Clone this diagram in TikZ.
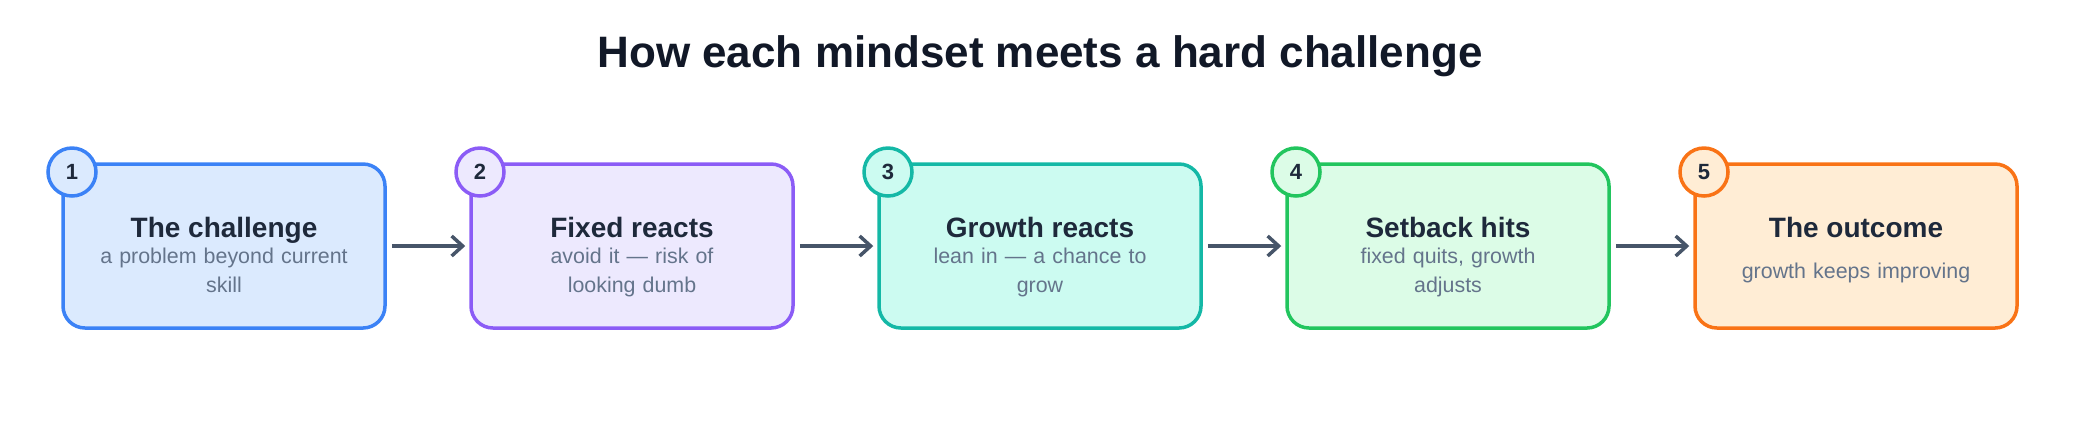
\documentclass[tikz,border=0pt]{standalone}
\usepackage{fontspec}
\setmainfont{Liberation Sans}
\usetikzlibrary{arrows.meta}

\definecolor{ink}{HTML}{111827}
\definecolor{boxtext}{HTML}{1E293B}
\definecolor{subtext}{HTML}{64748B}
\definecolor{arrowgray}{HTML}{475569}
\definecolor{blueline}{HTML}{3B82F6}   \definecolor{bluefill}{HTML}{DBEAFE}
\definecolor{violetline}{HTML}{8B5CF6} \definecolor{violetfill}{HTML}{EDE9FE}
\definecolor{tealline}{HTML}{14B8A6}   \definecolor{tealfill}{HTML}{CCFBF1}
\definecolor{greenline}{HTML}{22C55E}  \definecolor{greenfill}{HTML}{DCFCE7}
\definecolor{orangeline}{HTML}{F97316} \definecolor{orangefill}{HTML}{FFEDD5}

\tikzset{
  stagebox/.style={draw=#1line, fill=#1fill, line width=1.75pt, rounded corners=11pt,
    minimum width=161pt, minimum height=82pt, inner sep=0pt},
  stagenum/.style={circle, draw=#1line, fill=#1fill, line width=1.75pt,
    minimum size=24pt, inner sep=0pt, text=boxtext, font=\fontsize{11}{12}\selectfont\bfseries},
  stagetitle/.style={anchor=base, text=boxtext, font=\fontsize{14}{16}\selectfont\bfseries},
  stagesub/.style={anchor=base, text=subtext, align=center, text width=150pt,
    font=\fontsize{10.7}{14.5}\selectfont},
  flow/.style={draw=arrowgray, line width=1.75pt, -{Straight Barb[length=5.5pt,width=10pt]},
    shorten <=2.5pt, shorten >=2pt}
}

\begin{document}
\begin{tikzpicture}[x=0.5pt, y=-0.5pt]
        \useasboundingbox (0, 0) rectangle (2080, 420);

        % Title
        \node[anchor=base, text=ink, font=\fontsize{22}{26}\selectfont\bfseries]
            (title) at (1040, 67) {How each mindset meets a hard challenge};

        % Stages
        \foreach \i/\col/\head/\sub/\suby in {
            1/blue/The challenge/{a problem beyond current\\skill}/263,
            2/violet/Fixed reacts/{avoid it --- risk of\\looking dumb}/263,
            3/teal/Growth reacts/{lean in --- a chance to\\grow}/263,
            4/green/Setback hits/{fixed quits, growth\\adjusts}/263,
            5/orange/The outcome/{growth keeps improving}/278} {
            \node[stagebox=\col] (s\i) at ({224 + 408*(\i-1)}, 246) {};
            \node[stagetitle] (t\i) at ({224 + 408*(\i-1)}, 237) {\head};
            \node[stagesub] (d\i) at ({224 + 408*(\i-1)}, \suby) {\sub};
            \node[stagenum=\col] (n\i) at ({72 + 408*(\i-1)}, 172) {\i};
        }

        % Arrows
        \draw[flow] (s1) -- (s2);
        \draw[flow] (s2) -- (s3);
        \draw[flow] (s3) -- (s4);
        \draw[flow] (s4) -- (s5);

    \end{tikzpicture}
\end{document}
